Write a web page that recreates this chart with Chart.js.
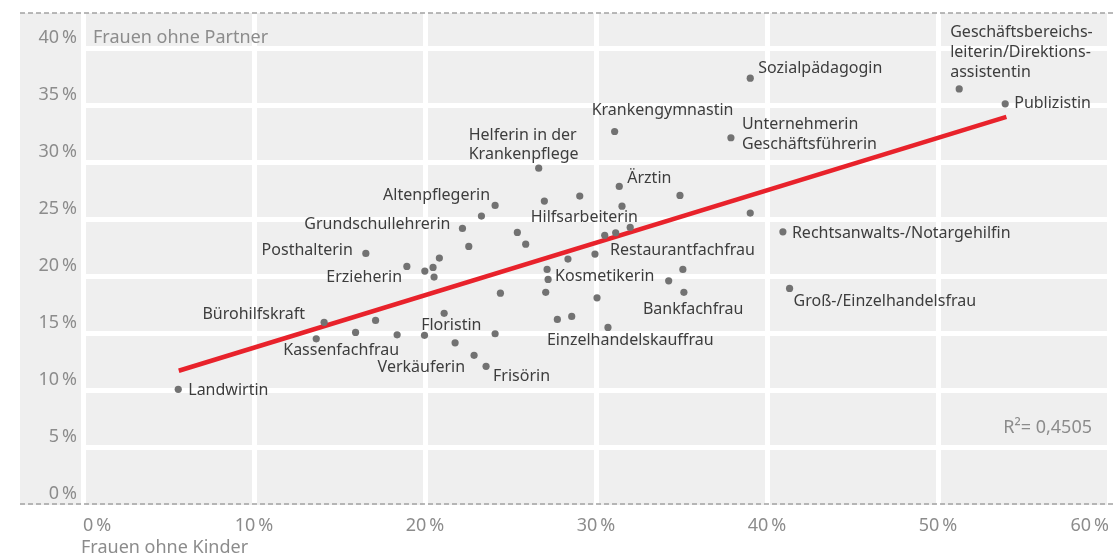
<!DOCTYPE html>
<html>
<head>
<meta charset="utf-8">
<script src="https://cdn.jsdelivr.net/npm/chart.js@4.4.1/dist/chart.umd.min.js"></script>
<style>
  body { margin: 0; background: #fff; }
  canvas { display: block; }
</style>
</head>
<body>
<canvas id="chart" width="1113" height="559"></canvas>
<script>
// Anteil Frauen ohne Kinder (x) vs. Frauen ohne Partner (y), in Prozent
var xs = [5.57, 13.64, 14.10, 15.94, 16.54, 17.11, 18.37, 18.94, 19.99, 19.97,
          20.47, 20.53, 20.84, 21.12, 21.76, 22.19, 22.56, 22.87, 23.30, 23.57,
          24.10, 24.10, 24.41, 25.40, 25.89, 26.65, 26.98, 27.06, 27.14, 27.20,
          27.74, 28.36, 28.58, 29.05, 29.94, 30.06, 30.51, 30.70, 31.09, 31.15,
          31.36, 31.52, 32.00, 34.25, 34.91, 35.08, 35.14, 37.89, 39.02, 39.02,
          40.93, 41.32, 51.24, 53.93];
var ys = [10.13, 14.56, 16.00, 15.12, 22.04, 16.17, 14.91, 20.90, 20.49, 14.86,
          20.81, 19.97, 21.63, 16.79, 14.21, 24.23, 22.65, 13.11, 25.31, 12.15,
          26.24, 15.00, 18.56, 23.88, 22.85, 29.51, 26.62, 18.63, 20.64, 19.76,
          16.26, 21.54, 16.52, 27.06, 21.98, 18.15, 23.62, 15.56, 32.72, 23.85,
          27.91, 26.18, 24.32, 19.64, 27.12, 20.64, 18.63, 32.17, 37.39, 25.57,
          23.93, 18.97, 36.45, 35.14];
var names = ['Landwirtin', 'Kassenfachfrau', 'Bürohilfskraft', '', 'Posthalterin', '', '', '', '', '',
             '', 'Erzieherin', '', 'Floristin', '', 'Grundschullehrerin', '', 'Verkäuferin', '', 'Frisörin',
             'Altenpflegerin', '', '', '', '', 'Helferin in der\nKrankenpflege', '', '', '', 'Kosmetikerin',
             '', '', '', '', 'Restaurantfachfrau', '', '', 'Einzelhandelskauffrau', 'Krankengymnastin', '',
             'Ärztin', 'Hilfsarbeiterin', '', '', '', '', 'Bankfachfrau', 'Unternehmerin\nGeschäftsführerin', 'Sozialpädagogin', '',
             'Rechtsanwalts-/Notargehilfin', 'Groß-/Einzelhandelsfrau', 'Geschäftsbereichs-\nleiterin/Direktions-\nassistentin', 'Publizistin'];

// Regressionsgerade (Endpunkte)
var trendX = [5.6, 54.0];
var trendY = [11.76, 34.0];
var rSquared = '0,4505';

var xTicks = [0, 10, 20, 30, 40, 50, 60];
var yTicks = [0, 5, 10, 15, 20, 25, 30, 35, 40];

// label offsets from the dot: [dx, dy, align]
var labelPos = {
  'Landwirtin': [10, 1, 'left'],
  'Kassenfachfrau': [-33, 12, 'left'],
  'Bürohilfskraft': [-19, -8, 'right'],
  'Posthalterin': [-13, -3, 'right'],
  'Erzieherin': [-32, 0, 'right'],
  'Floristin': [-23, 12, 'left'],
  'Grundschullehrerin': [-12, -4, 'right'],
  'Verkäuferin': [-9, 12, 'right'],
  'Frisörin': [7, 10, 'left'],
  'Altenpflegerin': [-5, -10, 'right'],
  'Helferin in der\nKrankenpflege': [-70, -33, 'left'],
  'Kosmetikerin': [7, -3, 'left'],
  'Restaurantfachfrau': [15, -4, 'left'],
  'Einzelhandelskauffrau': [-61, 13, 'left'],
  'Krankengymnastin': [-23, -21, 'left'],
  'Ärztin': [8, -8, 'left'],
  'Hilfsarbeiterin': [16, 11, 'right'],
  'Bankfachfrau': [-41, 17, 'left'],
  'Unternehmerin\nGeschäftsführerin': [11, -13, 'left'],
  'Sozialpädagogin': [8, -10, 'left'],
  'Rechtsanwalts-/Notargehilfin': [9, 2, 'left'],
  'Groß-/Einzelhandelsfrau': [4, 13, 'left'],
  'Geschäftsbereichs-\nleiterin/Direktions-\nassistentin': [-9, -56, 'left'],
  'Publizistin': [9, 0, 'left']
};

var FONT = '"Noto Sans", sans-serif';
var grey = '#8c8c8c';

var points = xs.map(function (x, i) { return { x: x, y: ys[i] }; });
var trend = trendX.map(function (x, i) { return { x: x, y: trendY[i] }; });

var backdrop = {
  id: 'backdrop',
  beforeDraw: function (chart) {
    var c = chart.ctx, a = chart.chartArea;
    c.save();
    c.fillStyle = '#efefef';
    c.fillRect(20, a.top, a.right - 20, a.bottom - a.top);
    c.restore();
  },
  afterDatasetsDraw: function (chart) {
    var c = chart.ctx, a = chart.chartArea;
    var meta = chart.getDatasetMeta(0);
    var ysc = chart.scales.y;
    c.save();
    c.font = '16px ' + FONT;
    c.fillStyle = '#3d3d3d';
    c.textBaseline = 'middle';
    names.forEach(function (n, i) {
      if (!n) return;
      var p = labelPos[n] || [8, 0, 'left'];
      var el = meta.data[i];
      c.textAlign = p[2];
      n.split('\n').forEach(function (line, k) {
        c.fillText(line, el.x + p[0], el.y + p[1] + k * 19.7);
      });
    });

    // annotations
    c.font = '18px ' + FONT;
    c.fillStyle = grey;
    c.textAlign = 'left';
    c.fillText('Frauen ohne Partner', a.left + 10, ysc.getPixelForValue(40) - 11);
    c.fillText('Frauen ohne Kinder', a.left - 2, 548);
    c.textAlign = 'right';
    c.fillText('R\u00b2= ' + rSquared, a.right - 17, ysc.getPixelForValue(5) - 20);

    // dashed frame lines
    c.strokeStyle = '#a3a3a3';
    c.lineWidth = 1.5;
    c.setLineDash([5, 3]);
    c.beginPath();
    c.moveTo(20, a.top); c.lineTo(1113, a.top);
    c.moveTo(20, a.bottom - 1); c.lineTo(1113, a.bottom - 1);
    c.stroke();
    c.restore();
  }
};

new Chart(document.getElementById('chart'), {
  type: 'scatter',
  data: {
    datasets: [{
      data: points,
      pointRadius: 3.6,
      pointBackgroundColor: '#727272',
      pointBorderWidth: 0
    }, {
      type: 'line',
      data: trend,
      borderColor: '#e8222b',
      borderWidth: 4.5,
      pointRadius: 0,
      fill: false
    }]
  },
  options: {
    responsive: false,
    animation: false,
    layout: { padding: { top: 13, right: 3, left: 0, bottom: 0 } },
    plugins: { legend: { display: false }, tooltip: { enabled: false } },
    scales: {
      x: {
        type: 'linear', min: 0, max: 60,
        afterFit: function (s) { s.height = 54; s.paddingLeft = 0; s.paddingRight = 0; },
        afterBuildTicks: function (s) { s.ticks = xTicks.map(function (v) { return { value: v }; }); },
        grid: { color: '#ffffff', lineWidth: 5, drawTicks: false },
        border: { display: false },
        ticks: {
          align: 'inner', padding: 10, color: grey,
          font: { family: FONT, size: 18 },
          callback: function (v) { return v + '\u2009%'; }
        }
      },
      y: {
        type: 'linear', min: 0, max: 43.1,
        afterFit: function (s) { s.width = 83; s.paddingTop = 0; s.paddingBottom = 0; },
        afterBuildTicks: function (s) { s.ticks = yTicks.map(function (v) { return { value: v }; }); },
        grid: {
          lineWidth: 5, drawTicks: false,
          color: function (ctx) { return ctx.tick && ctx.tick.value === 0 ? 'rgba(0,0,0,0)' : '#ffffff'; }
        },
        border: { display: false },
        ticks: {
          padding: 6, labelOffset: -11, color: grey,
          font: { family: FONT, size: 18 },
          callback: function (v) { return v + '\u2009%'; }
        }
      }
    }
  },
  plugins: [backdrop]
});
</script>
</body>
</html>
